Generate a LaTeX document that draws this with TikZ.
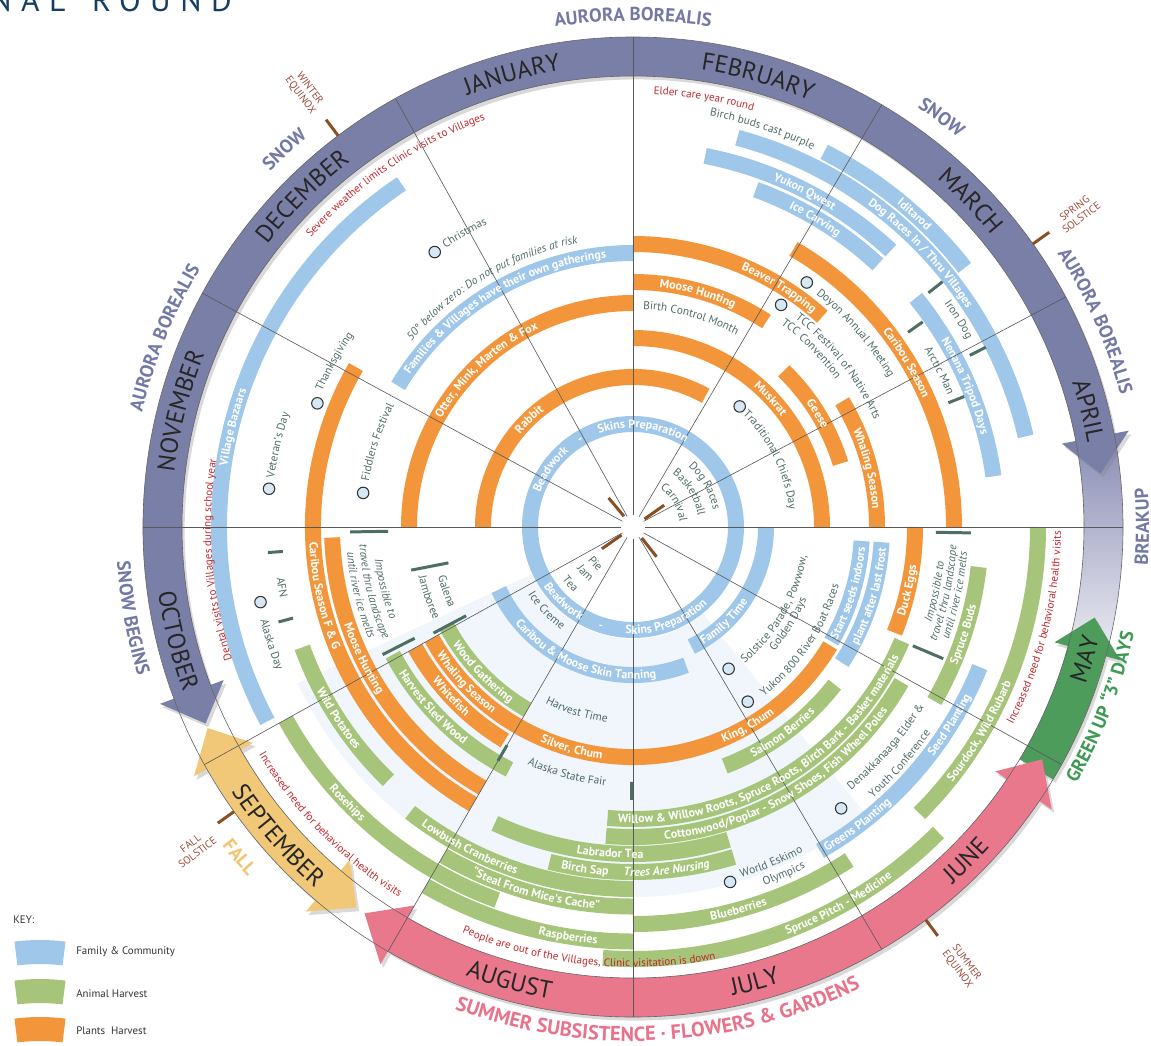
\documentclass[tikz,border=0pt]{standalone}
\usepackage{fontspec}
\setmainfont{PT Sans}
\usetikzlibrary{decorations.text,shadows}

\definecolor{famblue}{HTML}{9FC7EA}
\definecolor{anigreen}{HTML}{A6C57A}
\definecolor{plorange}{HTML}{F3963B}
\definecolor{ringpurple}{HTML}{7A7FA7}
\definecolor{ringpink}{HTML}{E9788D}
\definecolor{ringyellow}{HTML}{F0C877}
\definecolor{ringgreen}{HTML}{4E9C5B}
\definecolor{breakA}{HTML}{8C8FB6}
\definecolor{breakB}{HTML}{E8E8F0}
\definecolor{seasonpurple}{HTML}{7378A5}
\definecolor{summerpink}{HTML}{E8728A}
\definecolor{fallyellow}{HTML}{F2C46B}
\definecolor{greenup}{HTML}{3E9A52}
\definecolor{notered}{HTML}{C1272D}
\definecolor{evgray}{HTML}{4F6B68}
\definecolor{tickbrown}{HTML}{8A4E24}
\definecolor{solred}{HTML}{9A4A3A}
\definecolor{tickgreen}{HTML}{4D6E62}
\definecolor{titleblue}{HTML}{163E63}
\definecolor{dotfill}{HTML}{D6E8F5}
\definecolor{wash}{HTML}{F0F6FC}

% label fonts
\newcommand{\lblB}{\bfseries\fontsize{6.8}{8}\selectfont}
\newcommand{\lblBI}{\bfseries\itshape\fontsize{6.8}{8}\selectfont}
\newcommand{\lblG}{\fontsize{6.5}{8}\selectfont}
\newcommand{\lblGI}{\itshape\fontsize{6.5}{8}\selectfont}
\newcommand{\lblR}{\fontsize{6.3}{8}\selectfont}
\newcommand{\lblM}{\fontsize{14}{16}\selectfont}
\newcommand{\lblS}{\bfseries\fontsize{10.7}{12}\selectfont}
\newcommand{\lblSS}{\bfseries\fontsize{11.6}{13}\selectfont}

% band: radius, start, end, colour
\newcommand{\band}[4]{\draw[band,#4] (#2:#1) arc[start angle=#2,end angle=#3,radius=#1];}
% text on an arc, read clockwise (tops out) / counter-clockwise (tops in)
\newcommand{\uarc}[4][]{%
  \pgfmathsetmacro{\arcS}{#3+80}\pgfmathsetmacro{\arcE}{#3-80}%
  \path[decorate,decoration={text along path,text align=center},#1,decoration={text={#4}}]
    (\arcS:#2) arc[start angle=\arcS,end angle=\arcE,radius=#2];}
\newcommand{\larc}[4][]{%
  \pgfmathsetmacro{\arcS}{#3-80}\pgfmathsetmacro{\arcE}{#3+80}%
  \path[decorate,decoration={text along path,text align=center},#1,decoration={text={#4}}]
    (\arcS:#2) arc[start angle=\arcS,end angle=\arcE,radius=#2];}

\begin{document}
\begin{tikzpicture}[x=0.02cm,y=0.02cm]
    \tikzset{band/.style = {line width=0.32cm}}
    \tikzset{spoke/.style = {line width=0.35pt, draw=black!65}}
    \tikzset{rim/.style = {line width=0.35pt, draw=black!60}}
    \tikzset{soltick/.style = {line width=1.7pt, draw=tickbrown}}
    \tikzset{evtick/.style = {line width=1.7pt, draw=tickgreen}}
    \tikzset{dot/.style = {shape=circle, draw=black!80, fill=dotfill, line width=0.6pt, inner sep=0pt, minimum size=0.23cm}}
    \tikzset{soltxt/.style = {text=solred, font=\fontsize{6}{6.6}\selectfont, align=center, inner sep=0pt}}
    \tikzset{keytxt/.style = {text=black!80, font=\fontsize{6.2}{7}\selectfont, inner sep=0pt, anchor=west}}
    \tikzset{ringshade/.style = {drop shadow={shadow xshift=1.5pt, shadow yshift=-2pt, opacity=.3}}}
    \tikzset{wt/.style = {decoration={text color=white}}, gt/.style = {decoration={text color=evgray}},
             rt/.style = {decoration={text color=notered}}, mt/.style = {decoration={text color=black!85}},
             st/.style = {decoration={text color=seasonpurple}}, pkt/.style = {decoration={text color=summerpink}},
             ylt/.style = {decoration={text color=fallyellow}}, gnt/.style = {decoration={text color=greenup}}}
    \useasboundingbox (-633,-518) rectangle (518,527);

    % title
    \node[anchor=base west, inner sep=0pt, text=titleblue,
          font=\fontsize{18}{20}\selectfont\addfontfeature{LetterSpace=30}] (title) at (-643,515) {NAL\hspace{5pt} ROUND};

    % harvest wash
    \fill[wash] (205:112) arc[start angle=205,end angle=309,radius=112] -- (309:370)
        arc[start angle=309,end angle=205,radius=370] -- cycle;

    % family & community
    \draw[band,famblue] (0,0) circle[radius=103];
    \band{133}{296}{360}{famblue}
    \band{148}{205}{291}{famblue}
    \band{274}{90}{149}{famblue}
    \band{414}{124}{208}{famblue}
    \band{403}{13}{75}{famblue}
    \band{421}{38}{63}{famblue}
    \band{378}{47}{79}{famblue}
    \band{359}{47}{70}{famblue}
    \band{364}{8}{39}{famblue}
    \band{229}{330}{356.5}{famblue}
    \band{249}{327}{356.5}{famblue}
    \band{374}{300}{338}{famblue}
    % plants harvest
    \band{150}{61}{180}{plorange}
    \band{224}{90}{180}{plorange}
    \band{189}{0}{90}{plorange}
    \band{245}{57}{90}{plorange}
    \band{283}{48}{90}{plorange}
    \band{321}{0}{60}{plorange}
    \band{217}{17}{46}{plorange}
    \band{244}{0}{31}{plorange}
    \band{320}{150}{240}{plorange}
    \band{301}{182}{240}{plorange}
    \band{230}{209}{329}{plorange}
    \band{249}{209}{239}{plorange}
    \band{282}{338}{360}{plorange}
    % animal harvest
    \band{211}{208}{240}{anigreen}
    \band{272}{208}{243}{anigreen}
    \band{352}{200}{226}{anigreen}
    \band{397}{209}{250}{anigreen}
    \band{362}{232}{270}{anigreen}
    \band{379.5}{240}{270}{anigreen}
    \band{414.5}{240}{270}{anigreen}
    \band{345}{256}{287}{anigreen}
    \band{327}{245}{287}{anigreen}
    \band{310}{265}{330}{anigreen}
    \band{292}{265}{337}{anigreen}
    \band{256}{291}{322}{anigreen}
    \band{397}{270}{303}{anigreen}
    \band{432}{266}{315}{anigreen}
    \band{348}{330}{353.4}{anigreen}
    \band{405}{315}{360}{anigreen}

    % month ring
    \shade[top color=breakA, bottom color=breakB] (-14:451) arc[start angle=-14,end angle=10,radius=451]
        -- (10:490) arc[start angle=10,end angle=-14,radius=490] -- cycle;
    \fill[ringgreen,ringshade] (329:451) arc[start angle=329,end angle=344.7,radius=451] -- (344.7:437)
        -- (348.9:470.5) -- (344.7:505) -- (344.7:490) arc[start angle=344.7,end angle=329,radius=490] -- cycle;
    \fill[ringpurple,ringshade] (6.5:470.5) -- (11:437) -- (11:451) arc[start angle=11,end angle=200.5,radius=451]
        -- (200.5:437) -- (204.7:470.5) -- (200.5:505) -- (200.5:490)
        arc[start angle=200.5,end angle=11,radius=490] -- (11:505) -- cycle;
    \fill[ringyellow,ringshade] (205.3:470.5) -- (209.6:505) -- (209.6:490) arc[start angle=209.6,end angle=229.6,radius=490]
        -- (229.6:505) -- (234:470.5) -- (229.6:437) -- (229.6:451)
        arc[start angle=229.6,end angle=209.6,radius=451] -- (209.6:437) -- cycle;
    \fill[ringpink,ringshade] (235.2:470.5) -- (240:505) -- (240:490) arc[start angle=240,end angle=326,radius=490]
        -- (326:505) -- (330.4:470.5) -- (326:437) -- (326:451)
        arc[start angle=326,end angle=240,radius=451] -- (240:437) -- cycle;
    \draw[rim] (0,0) circle[radius=451];
    \draw[rim] (0,0) circle[radius=490];

    % spokes
    \foreach \a in {0,28,59.5,90,119,151.5,180,209,240,270,300.5,331}
        \draw[spoke] (\a:12) -- (\a:490);
    \foreach \a in {127,35.3,215.5,306.7}
        \draw[soltick] (\a:490) -- (\a:510);
    \foreach \a in {130,35,215,308.4}
        \draw[soltick] (\a:14) -- (\a:38);

    % event ticks
    \draw[evtick] (38.4:377) -- (38.4:395);  \draw[evtick] (27:378) -- (27:396);
    \draw[evtick] (35.3:337) -- (35.3:355);  \draw[evtick] (21.5:339) -- (21.5:356);
    \draw[evtick] (184:351) -- (184:366);    \draw[evtick] (195:352) -- (195:367);
    \draw[evtick] (181:245) -- (181:283);    \draw[evtick] (207:245) -- (207:281);
    \draw[evtick] (191:188) -- (191:226);    \draw[evtick] (208:189) -- (208:226);
    \draw[evtick] (359:303) -- (359:338);    \draw[evtick] (337:304) -- (337:337);
    \draw[evtick] (240:252) -- (240:270);    \draw[evtick] (269.7:255) -- (269.7:273);

    % events
    \node[dot] (christmas) at (125.8:339) {};
    \node[dot] (thanks) at (158.6:339) {};
    \node[dot] (fiddlers) at (172.8:272) {};
    \node[dot] (veterans) at (174:366) {};
    \node[dot] (akday) at (191.4:380) {};
    \node[dot] (doyon) at (54.6:300) {};
    \node[dot] (tcc) at (56.3:267) {};
    \node[dot] (chiefs) at (48.5:161) {};
    \node[dot] (solstice) at (-56:171) {};
    \node[dot] (yukon) at (-56.7:209) {};
    \node[dot] (weo) at (-74.7:368) {};
    \node[dot] (denak) at (-53.5:350) {};

    % month names
    \uarc[mt]{462}{165.6}{|\lblM|NOVEMBER}
    \uarc[mt]{462}{135}{|\lblM|DECEMBER}
    \uarc[mt]{462}{105}{|\lblM|JANUARY}
    \uarc[mt]{462}{74.5}{|\lblM|FEBRUARY}
    \uarc[mt]{462}{44}{|\lblM|MARCH}
    \uarc[mt]{462}{14.3}{|\lblM|APRIL}
    \larc[mt]{479}{-16.3}{|\lblM|MAY}
    \larc[mt]{479}{-45}{|\lblM|JUNE}
    \larc[mt]{479}{-75}{|\lblM|JULY}
    \larc[mt]{479}{254.8}{|\lblM|AUGUST}
    \larc[mt]{481}{221}{|\lblM|SEPTEMBER}
    \larc[mt]{479}{194}{|\lblM|OCTOBER}

    % seasons
    \uarc[st]{506}{90}{|\lblS|AURORA BOREALIS}
    \uarc[st]{508}{132.7}{|\lblS|SNOW}
    \uarc[st]{504}{158}{|\lblS|AURORA BOREALIS}
    \larc[st]{517}{190.3}{|\lblS|SNOW BEGINS}
    \uarc[st]{507}{53}{|\lblS|SNOW}
    \uarc[st]{505}{24}{|\lblS|AURORA BOREALIS}
    \larc[st]{516}{0}{|\lblS|BREAKUP}
    \larc[gnt]{512}{-21}{|\lblS|GREEN UP “3” DAYS}
    \larc[pkt]{514}{273}{|\lblSS|SUMMER SUBSISTENCE · FLOWERS {\&} GARDENS}
    \larc[ylt]{520}{220}{|\lblS|FALL}
    \node[soltxt,rotate=-53] (winter) at (-328,435) {WINTER\\EQUINOX};
    \node[soltxt,rotate=37] (spring) at (445,314) {SPRING\\SOLSTICE};
    \node[soltxt,rotate=37] (fall) at (-439,-321) {FALL\\SOLSTICE};
    \node[soltxt,rotate=-53] (summer) at (329,-439) {SUMMER\\EQUINOX};

    % band labels, upper half
    \uarc[wt]{99}{84}{|\lblB|Skins Preparation}
    \uarc[wt]{99}{121}{|\lblB|-}
    \uarc[wt]{99}{145}{|\lblB|Beadwork}
    \uarc[wt]{146}{134}{|\lblB|Rabbit}
    \uarc[wt]{220}{133}{|\lblB|Otter, Mink, Marten {\&} Fox}
    \uarc[wt]{270}{120.7}{|\lblB|Families {\&} Villages have their own gatherings}
    \uarc[wt]{279}{58.6}{|\lblB|Beaver Trapping}
    \uarc[wt]{241}{74.5}{|\lblB|Moose Hunting}
    \uarc[wt]{317}{31}{|\lblB|Caribou Season}
    \uarc[wt]{185}{43}{|\lblB|Muskrat}
    \uarc[wt]{213}{31.5}{|\lblB|Geese}
    \uarc[wt]{240}{14}{|\lblB|Whaling Season}
    \uarc[wt]{417}{48}{|\lblB|Iditarod}
    \uarc[wt]{399}{43.6}{|\lblB|Dog Races In / Thru Villages}
    \uarc[wt]{374}{62.9}{|\lblB|Yukon Qwest}
    \uarc[wt]{355}{59.4}{|\lblB|Ice Carving}
    \uarc[wt]{360}{23}{|\lblB|Nenana Tripod Days}
    \uarc[wt]{410}{166}{|\lblB|Village Bazaars}
    % band labels, lower half
    \larc[wt]{324}{192.5}{|\lblB|Caribou Season F {\&} G}
    \larc[wt]{305}{206}{|\lblB|Moose Hunting}
    \larc[wt]{107}{227}{|\lblB|Beadwork}
    \larc[wt]{107}{252}{|\lblB|-}
    \larc[wt]{107}{290}{|\lblB|Skins Preparation}
    \larc[wt]{137}{314}{|\lblB|Family Time}
    \larc[wt]{152}{249}{|\lblB|Caribou {\&} Moose Skin Tanning}
    \larc[wt]{215}{224}{|\lblB|Wood Gathering}
    \larc[wt]{234}{223}{|\lblB|Whaling Season}
    \larc[wt]{253}{223}{|\lblB|Whitefish}
    \larc[wt]{276}{222}{|\lblB|Harvest Sled Wood}
    \larc[wt]{356}{213}{|\lblB|Wild Potatoes}
    \larc[wt]{401}{224}{|\lblB|Rosehips}
    \larc[wt]{366}{243}{|\lblB|Lowbush Cranberries}
    \larc[wt]{383.5}{255}{|\lblB|“Steal From Mice’s Cache”}
    \larc[wt]{418.5}{261}{|\lblB|Raspberries}
    \larc[wt]{349}{262}{|\lblB|Birch Sap}
    \larc[wt]{349}{275.6}{|\lblBI|Trees Are Nursing}
    \larc[wt]{331}{266}{|\lblB|Labrador Tea}
    \larc[wt]{314}{300}{|\lblB|Cottonwood/Poplar - Snow Shoes, Fish Wheel Poles}
    \larc[wt]{296}{300.5}{|\lblB|Willow {\&} Willow Roots, Spruce Roots, Birch Bark - Basket materials}
    \larc[wt]{234}{254.5}{|\lblB|Silver, Chum}
    \larc[wt]{234}{300}{|\lblB|King, Chum}
    \larc[wt]{260}{306}{|\lblB|Salmon Berries}
    \larc[wt]{401}{285.4}{|\lblB|Blueberries}
    \larc[wt]{436}{298.6}{|\lblB|Spruce Pitch - Medicine}
    \larc[wt]{378}{307}{|\lblB|Greens Planting}
    \larc[wt]{378}{328}{|\lblB|Seed Planting}
    \larc[wt]{352}{342}{|\lblB|Spruce Buds}
    \larc[wt]{409}{329.5}{|\lblB|Sourdock, Wild Rubarb}
    \larc[wt]{286}{347}{|\lblB|Duck Eggs}
    \larc[wt]{233}{343}{|\lblB|Start seeds indoors}
    \larc[wt]{254}{343.7}{|\lblB|plant after last frost}

    % event and note texts
    \uarc[gt]{336}{119.8}{|\lblG|Christmas}
    \uarc[gt]{289}{120.5}{|\lblGI|50° below zero: Do not put families at risk}
    \uarc[gt]{339}{151}{|\lblG|Thanksgiving}
    \uarc[gt]{268}{161.6}{|\lblG|Fiddlers Festival}
    \uarc[gt]{362}{167}{|\lblG|Veteran’s Day}
    \uarc[gt]{296}{41}{|\lblG|Doyon Annual Meeting}
    \uarc[gt]{264}{38}{|\lblG|TCC Festival of Native Arts}
    \uarc[gt]{251}{45}{|\lblG|TCC Convention}
    \uarc[gt]{218}{74.5}{|\lblG|Birth Control Month}
    \uarc[gt]{157}{26}{|\lblG|Traditional Chiefs Day}
    \uarc[gt]{82}{29.7}{|\lblG|Dog Races}
    \uarc[gt]{66}{31.5}{|\lblG|Basketball}
    \uarc[gt]{47}{30.5}{|\lblG|Carnival}
    \uarc[gt]{383}{32.5}{|\lblG|Iron Dog}
    \uarc[gt]{341}{27}{|\lblG|Arctic Man}
    \uarc[gt]{418}{72}{|\lblG|Birch buds cast purple}
    \uarc[rt]{433}{80.6}{|\lblR|Elder care year round}
    \uarc[rt]{433}{124}{|\lblR|Severe weather limits Clinic visits to Villages}
    \uarc[rt]{422}{184.5}{|\lblR|Dental visits to Villages during school year}
    \larc[gt]{260}{194}{|\lblGI|Impossible to}
    \larc[gt]{274}{194}{|\lblGI|travel thru landscape}
    \larc[gt]{287}{194}{|\lblGI|until river ice melts}
    \larc[gt]{201}{199}{|\lblG|Galena}
    \larc[gt]{220}{199}{|\lblG|Jamboree}
    \larc[gt]{360}{189.8}{|\lblG|AFN}
    \larc[gt]{384}{198}{|\lblG|Alaska Day}
    \larc[gt]{56}{224}{|\lblG|Pie}
    \larc[gt]{70}{224}{|\lblG|Jam}
    \larc[gt]{88}{222}{|\lblG|Tea}
    \larc[gt]{125}{224}{|\lblG|Ice Creme}
    \larc[gt]{197}{253}{|\lblG|Harvest Time}
    \larc[gt]{260}{255}{|\lblG|Alaska State Fair}
    \larc[gt]{176}{330}{|\lblG|Solstice Parade, Powwow,}
    \larc[gt]{188}{328}{|\lblG|Golden Days}
    \larc[gt]{214}{326}{|\lblG|Yukon 800 River Boat Races}
    \larc[gt]{367}{292.4}{|\lblG|World Eskimo}
    \larc[gt]{382}{293.5}{|\lblG|Olympics}
    \larc[gt]{342}{319}{|\lblG|Denakkanaaga Elder {\&}}
    \larc[gt]{362}{318.4}{|\lblG|Youth Conference}
    \larc[gt]{313}{348}{|\lblGI|Impossible to}
    \larc[gt]{324}{348}{|\lblGI|travel thru landscape}
    \larc[gt]{335}{348}{|\lblGI|until river ice melts}
    \larc[rt]{428}{346}{|\lblR|Increased need for behavioral health visits}
    \larc[rt]{438}{224.5}{|\lblR|Increased need for behavioral health visits}
    \larc[rt]{440}{264}{|\lblR|People are out of the Villages, Clinic visitation is down}

    % key
    \node[keytxt] (keyhead) at (-620,-393) {KEY:};
    \fill[famblue,shift={(-593,-617)}] (82.8:180) arc[start angle=82.8,end angle=97.2,radius=180]
        -- (97.2:204) arc[start angle=97.2,end angle=82.8,radius=204] -- cycle;
    \fill[anigreen,shift={(-593,-656)}] (82.8:180) arc[start angle=82.8,end angle=97.2,radius=180]
        -- (97.2:204) arc[start angle=97.2,end angle=82.8,radius=204] -- cycle;
    \fill[plorange,shift={(-593,-694)}] (82.8:180) arc[start angle=82.8,end angle=97.2,radius=180]
        -- (97.2:204) arc[start angle=97.2,end angle=82.8,radius=204] -- cycle;
    \node[keytxt] (keyfam) at (-557,-425) {Family \& Community};
    \node[keytxt] (keyani) at (-557,-467) {Animal Harvest};
    \node[keytxt] (keypla) at (-557,-504) {Plants\ \ Harvest};
\end{tikzpicture}
\end{document}
